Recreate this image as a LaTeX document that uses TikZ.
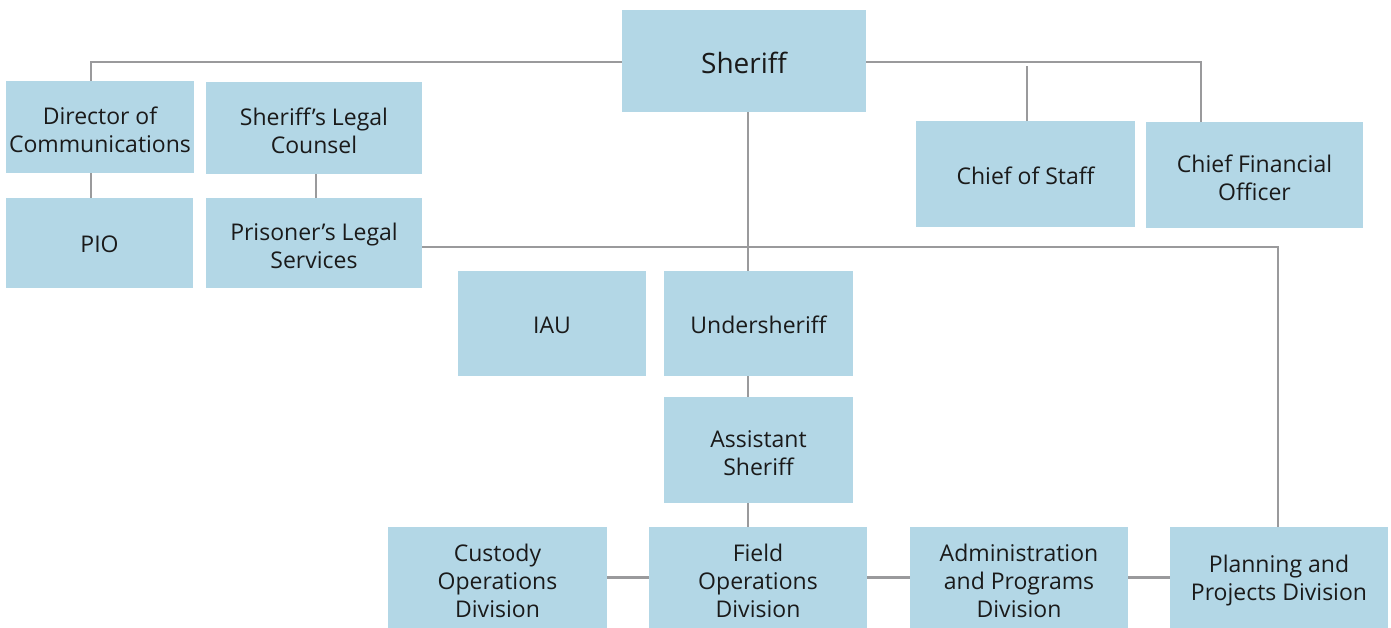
\documentclass[tikz,border=0pt]{standalone}
\usepackage{fontspec}
\setmainfont{Open Sans}
\definecolor{boxblue}{HTML}{B3D7E6}
\definecolor{linegray}{HTML}{9A9A9C}
\definecolor{textc}{HTML}{1A1A1A}
\tikzset{
  orgbox/.style={fill=boxblue, inner sep=0pt},
  tx/.style={text=textc, align=center, inner sep=0pt,
    font=\fontsize{23}{28}\selectfont, yshift=-3pt},
  tx1/.style={tx, yshift=1.5pt},
  txtop/.style={tx, font=\fontsize{28}{32}\selectfont, yshift=1pt},
  conn/.style={draw=linegray, line width=2.6pt}
}
\begin{document}
\begin{tikzpicture}[x=1pt,y=-1pt]
\useasboundingbox (0,0) rectangle (1391,628);
\node[orgbox, minimum width=244pt, minimum height=102pt, label={[txtop]center:Sheriff}] (sheriff) at (744,61) {};
\node[orgbox, minimum width=188pt, minimum height=92pt, label={[tx]center:{Director of\\Communications}}] (dir) at (100,127) {};
\node[orgbox, minimum width=216pt, minimum height=92pt, label={[tx]center:{Sheriff’s Legal\\Counsel}}] (legal) at (314,128) {};
\node[orgbox, minimum width=187pt, minimum height=90pt, label={[tx1]center:PIO}] (pio) at (99.5,243) {};
\node[orgbox, minimum width=216pt, minimum height=90pt, label={[tx]center:{Prisoner’s Legal\\Services}}] (pls) at (314,243) {};
\node[orgbox, minimum width=219pt, minimum height=106pt, label={[tx1]center:Chief of Staff}] (cos) at (1025.5,174) {};
\node[orgbox, minimum width=217pt, minimum height=106pt, label={[tx]center:{Chief Financial\\Officer}}] (cfo) at (1254.5,175) {};
\node[orgbox, minimum width=188pt, minimum height=105pt, label={[tx1]center:IAU}] (iau) at (552,323.5) {};
\node[orgbox, minimum width=189pt, minimum height=105pt, label={[tx1]center:Undersheriff}] (under) at (758.5,323.5) {};
\node[orgbox, minimum width=189pt, minimum height=106pt, label={[tx]center:{Assistant\\Sheriff}}] (asst) at (758.5,450) {};
\node[orgbox, minimum width=219pt, minimum height=101pt, label={[tx]center:{Custody\\Operations\\Division}}] (custody) at (497.5,577.5) {};
\node[orgbox, minimum width=218pt, minimum height=101pt, label={[tx]center:{Field\\Operations\\Division}}] (field) at (758,577.5) {};
\node[orgbox, minimum width=218pt, minimum height=101pt, label={[tx]center:{Administration\\and Programs\\Division}}] (admin) at (1019,577.5) {};
\node[orgbox, minimum width=218pt, minimum height=101pt, label={[tx]center:{Planning and\\Projects Division}}] (plan) at (1279,577.5) {};
% connectors
\draw[conn] ([yshift=-1pt]sheriff.west) -| ([xshift=-9pt]dir.north);
\draw[conn] ([xshift=-9pt]dir.south) -- ([xshift=-9pt]pio.north -| dir.south);
\draw[conn] ([xshift=2pt]legal.south) -- ([xshift=2pt]legal.south |- pls.north);
\draw[conn] ([yshift=-1pt]sheriff.east) -| ([xshift=-53.5pt]cfo.north);
\draw[conn] ([xshift=1.5pt]cos.north) -- ++(0,-55);
\draw[conn] ([xshift=4pt]sheriff.south) -- ([xshift=4pt]sheriff.south |- under.north);
\draw[conn] ([yshift=-4pt]pls.east) -| ([xshift=-1pt]plan.north);
\draw[conn] ([xshift=-10.5pt]under.south) -- ([xshift=-10.5pt]asst.north);
\draw[conn] ([xshift=-10.5pt]asst.south) -- ([xshift=-10.5pt]asst.south |- field.north);
\draw[conn] (custody.east) -- (field.west);
\draw[conn] (field.east) -- (admin.west);
\draw[conn] (admin.east) -- (plan.west);
\end{tikzpicture}
\end{document}
